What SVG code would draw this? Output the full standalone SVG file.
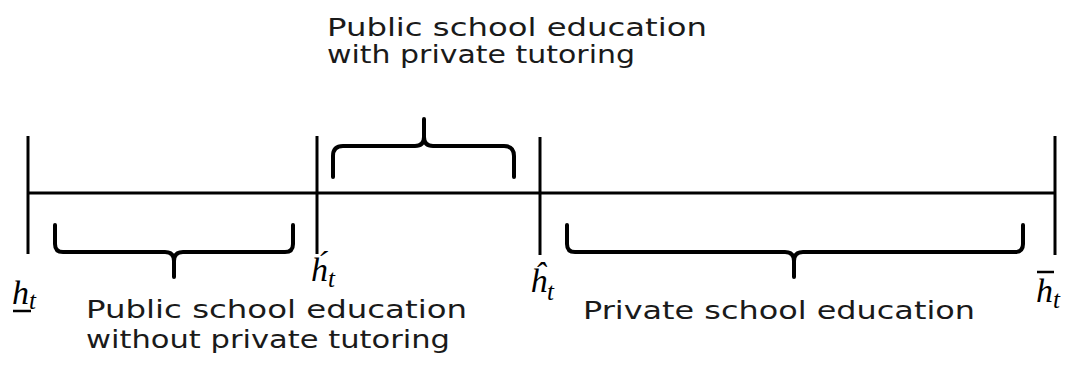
<svg xmlns="http://www.w3.org/2000/svg" width="1072" height="378" viewBox="0 0 1072 378">
<style>
.ln{stroke:#000;stroke-width:3;fill:none;stroke-linecap:butt}
.br{stroke:#000;stroke-width:4;fill:none;stroke-linecap:round;stroke-linejoin:round}
.lbl{font-family:"DejaVu Sans","Liberation Sans",sans-serif;font-size:25px;fill:#1a1a1a}
.m{font-family:"Liberation Serif","DejaVu Serif",serif;font-style:italic;fill:#000}
.mh{font-size:34px}
.ms{font-size:25px}
</style>
<rect width="1072" height="378" fill="#fff"/>
<g id="connectors">
<line class="ln" x1="28" y1="193" x2="1056" y2="193"/>
<line class="ln" x1="28" y1="136" x2="28" y2="254"/>
<line class="ln" x1="317" y1="136" x2="317" y2="254"/>
<line class="ln" x1="540" y1="137" x2="540" y2="255"/>
<line class="ln" x1="1055" y1="136" x2="1055" y2="255"/>
</g>
<g id="brace-public-without">
<path class="br" d="M55,225 V244 Q55,252 63,252 H165 Q174,252 174,261 V277 M293,225 V244 Q293,252 285,252 H183 Q174,252 174,261"/>
</g>
<g id="brace-public-with">
<path class="br" d="M333,177 V156 Q333,146 343,146 H415 Q424,146 424,137 V119 M514,177 V156 Q514,146 504,146 H433 Q424,146 424,137"/>
</g>
<g id="brace-private">
<path class="br" d="M567,225 V244 Q567,252 575,252 H785 Q794,252 794,261 V277 M1023,225 V244 Q1023,252 1015,252 H803 Q794,252 794,261"/>
</g>
<g id="label-public-with">
<text class="lbl" x="327" y="36" textLength="380" lengthAdjust="spacingAndGlyphs">Public school education</text>
<text class="lbl" x="327" y="63" textLength="308" lengthAdjust="spacingAndGlyphs">with private tutoring</text>
</g>
<g id="label-public-without">
<text class="lbl" x="86" y="318" textLength="381" lengthAdjust="spacingAndGlyphs">Public school education</text>
<text class="lbl" x="86" y="348" textLength="364" lengthAdjust="spacingAndGlyphs">without private tutoring</text>
</g>
<g id="label-private">
<text class="lbl" x="583" y="319" textLength="392" lengthAdjust="spacingAndGlyphs">Private school education</text>
</g>
<g id="h-under">
<text class="m" x="12" y="304"><tspan class="mh">h</tspan><tspan class="ms" dy="5">t</tspan></text>
<line x1="13" y1="311" x2="31" y2="311" stroke="#000" stroke-width="2.5"/>
</g>
<g id="h-acute">
<text class="m" x="311" y="281"><tspan class="mh">h&#x301;</tspan><tspan class="ms" dy="6">t</tspan></text>
</g>
<g id="h-hat">
<text class="m" x="530" y="292"><tspan class="mh">&#x125;</tspan><tspan class="ms" dy="8">t</tspan></text>
</g>
<g id="h-bar">
<text class="m" x="1036" y="302"><tspan class="mh">h</tspan><tspan class="ms" dy="6">t</tspan></text>
<line x1="1037" y1="272" x2="1054" y2="272" stroke="#000" stroke-width="2.5"/>
</g>
</svg>
